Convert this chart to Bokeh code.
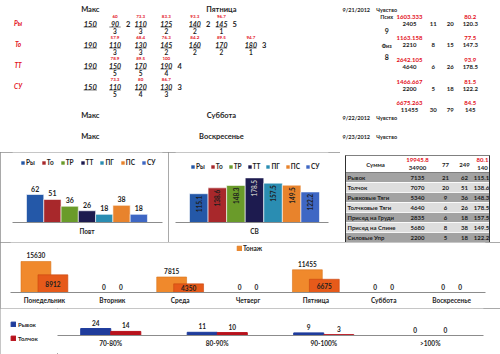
from bokeh.plotting import figure
from bokeh.layouts import column, row
from bokeh.models import ColumnDataSource, Range1d, FactorRange, FixedTicker, Legend, LegendItem
from bokeh.transform import dodge
from bokeh.core.properties import value
from bokeh.embed import file_html
from bokeh.resources import INLINE

# ---------------- data ----------------
plan_rows = ["Ры", "То", "ТТ", "СУ"]
plan_max = ["150", "190", "190", "150"]
plan_weights = [["90", "110", "125", "140", "145"],
                ["110", "130", "145", "160", "170", "180"],
                ["150", "170", "190"],
                ["110", "120", "130"]]
plan_reps = [["3", "3", "2", "2", "1"],
             ["3", "3", "2", "2", "2", "1"],
             ["5", "5", "4"],
             ["5", "4", "3"]]
plan_pct = [["60", "73.3", "83.3", "93.3", "96.7"],
            ["57.9", "68.4", "76.3", "84.2", "89.5", "94.7"],
            ["78.9", "89.5", "100"],
            ["73.3", "80", "86.7"]]
plan_sets = [["2", "", "", "2", "5"],
             ["", "", "", "", "", "3"],
             ["", "", "4"],
             ["", "", "3"]]

day_titles = ["Пятница", "Суббота", "Воскресенье"]
day_dates = ["9/21/2012", "9/22/2012", "9/23/2012"]
feel_labels = ["Псих", "Физ"]
feel_values = ["9", "8"]

sum_red = ["1603.333", "1163.158", "2642.105", "1466.667", "6675.263"]
sum_red_pct = ["80.2", "77.5", "93.9", "81.5", "84.5"]
sum_tonnage = ["2405", "2210", "4640", "2200", "11455"]
sum_sets = ["11", "8", "6", "5", "30"]
sum_reps = ["20", "15", "26", "18", "79"]
sum_avg = ["120.3", "147.3", "178.5", "122.2", "145"]

lifts = ["Ры", "То", "ТР", "ТТ", "ПГ", "ПС", "СУ"]
lift_reps = [62, 51, 36, 26, 18, 38, 18]
lift_avg = [115.1, 138.6, 148.3, 178.5, 157.5, 149.5, 122.2]

table_names = ["Рывок", "Толчок", "Рывковые Тяги", "Толчковые Тяги",
               "Присед на Груди", "Присед на Спине", "Силовые Упр"]
table_tonnage = ["7135", "7070", "5340", "4640", "2835", "5680", "2200"]
table_sets = ["21", "20", "9", "6", "6", "8", "5"]
table_reps = ["62", "51", "36", "26", "18", "38", "18"]
table_avg = ["115.1", "138.6", "148.3", "178.5", "157.5", "149.5", "122.2"]
table_head = ["Сумма", "19945.8", "34900", "77", "249", "80.1", "140"]

days = ["Понедельник", "Вторник", "Среда", "Четверг", "Пятница", "Суббота", "Воскресенье"]
tonnage = [15630, 0, 7815, 0, 11455, 0, 0]
tonnage_rel = [8912, 0, 4350, 0, 6675, 0, 0]
tonnage_name = "Тонаж"

zones = ["70-80%", "80-90%", "90-100%", ">100%"]
zone_series = ["Рывок", "Толчок"]
zone_snatch = [24, 11, 9, 0]
zone_cj = [14, 10, 3, 0]

# ---------------- style ----------------
FONT = "Lato"
DARK = "#1e1e1e"
RED = "#e3101b"
LIFT_COLORS = ["#2458a8", "#a8282b", "#6a9b2a", "#1d1b4f", "#2a8db2", "#e8832c", "#3e67c4"]
CV_LABEL_COLORS = [DARK, DARK, DARK, "#bfbfbf", DARK, DARK, DARK]
ZONE_COLORS = ["#1f3c9c", "#b8121c"]
BORDER = {"outline": "1px solid #8c8c8c", "outline-offset": "-1px"}


def txt(p, xs, ys, texts, size, color=DARK, style="bold", align="center",
        baseline="middle", angle=0.0, y_offset=0, x_offset=0):
    src = ColumnDataSource(dict(x=list(xs), y=list(ys), t=list(texts)))
    p.text(x="x", y="y", text="t", source=src, text_font=value(FONT),
           text_font_size=size, text_font_style=style, text_color=color,
           text_align=align, text_baseline=baseline, angle=angle,
           y_offset=y_offset, x_offset=x_offset)


def clean(p):
    p.xgrid.visible = False
    p.ygrid.visible = False
    p.outline_line_color = None
    p.background_fill_color = "white"
    p.border_fill_color = "white"


def style_xaxis(p, size="6.5px", standoff=4):
    ax = p.xaxis
    ax.axis_line_color = "#8c8c8c"
    ax.major_tick_line_color = None
    ax.minor_tick_line_color = None
    ax.major_tick_out = 0
    ax.major_tick_in = 0
    ax.major_label_standoff = standoff
    ax.major_label_text_font = FONT
    ax.major_label_text_font_style = "bold"
    ax.major_label_text_font_size = size
    ax.major_label_text_color = DARK


def style_legend(lg, orientation, loc, glyph=5, spacing=4, standoff=1, size="6.5px", margin=0):
    lg.orientation = orientation
    lg.location = loc
    lg.label_text_font = FONT
    lg.label_text_font_style = "bold"
    lg.label_text_font_size = size
    lg.label_text_color = DARK
    lg.label_text_baseline = "middle"
    lg.glyph_width = glyph
    lg.glyph_height = glyph
    lg.label_height = 8
    lg.label_width = 0
    lg.label_standoff = standoff
    lg.spacing = spacing
    lg.padding = 0
    lg.margin = margin
    lg.border_line_color = None
    lg.background_fill_alpha = 0


# ---------------- top text block ----------------
pA = figure(width=500, height=152, x_range=Range1d(0, 500), y_range=Range1d(152, 0),
            output_backend="svg", toolbar_location=None,
            x_axis_location=None, y_axis_location=None, min_border=0)
clean(pA)

title_y = [9, 115, 136]
txt(pA, [84] * 3, title_y, ["Макс"] * 3, "7.5px")
txt(pA, [222] * 3, title_y, day_titles, "7.5px")
txt(pA, [364] * 3, [9, 117, 136], day_dates, "5.5px")
txt(pA, [396] * 3, [9, 117, 136], ["Чувство"] * 3, "5.5px")
txt(pA, [396, 396], [16, 45], feel_labels, "5.5px")
txt(pA, [396, 396], [30, 56], feel_values, "7px")

row_y = [23, 44, 65, 86]
cell_x = [110, 137, 164, 194, 222, 253]
txt(pA, [8] * 4, row_y, plan_rows, "6.5px", color=RED, style="bold italic")
txt(pA, [84] * 4, row_y, plan_max, "7.5px", style="bold italic")
ux0, ux1, uy = [], [], []
for i in range(4):
    n = len(plan_weights[i])
    xs = cell_x[:n]
    yy = row_y[i]
    txt(pA, xs, [yy - 7.5] * n, plan_pct[i], "4.5px", color=RED)
    txt(pA, xs, [yy] * n, plan_weights[i], "7px", style="bold italic")
    txt(pA, xs, [yy + 7] * n, plan_reps[i], "6.5px")
    txt(pA, [x + 14 for x in xs], [yy] * n, plan_sets[i], "7.5px")
    ux0 += [x - 6 for x in xs] + [77]
    ux1 += [x + 6 for x in xs] + [91]
    uy += [yy + 3.5] * (n + 1)
pA.segment(x0=ux0, y0=uy, x1=ux1, y1=uy, line_color=DARK, line_width=0.6)

red_y = [16, 37, 59, 81, 102]
blk_y = [y + 7 for y in red_y]
txt(pA, [420] * 5, red_y, sum_red, "6px", color=RED)
txt(pA, [484] * 5, red_y, sum_red_pct, "6px", color=RED)
txt(pA, [420] * 5, blk_y, sum_tonnage, "6px")
txt(pA, [445] * 5, blk_y, sum_sets, "6px")
txt(pA, [463] * 5, blk_y, sum_reps, "6px")
txt(pA, [484] * 5, blk_y, sum_avg, "6px")

# ---------------- reps per lift ----------------
pB = figure(width=168, height=90, x_range=Range1d(-1.31, 7.37), y_range=Range1d(0, 155),
            output_backend="svg", toolbar_location=None, y_axis_location=None,
            min_border_left=12, min_border_right=6, min_border_top=0,
            min_border_bottom=20, styles=BORDER)
clean(pB)
srcB = ColumnDataSource(dict(x=list(range(len(lifts))), top=lift_reps, name=lifts,
                             color=LIFT_COLORS, lbl=[str(v) for v in lift_reps]))
pB.vbar(x="x", top="top", width=1.0, color="color", line_color="white",
        line_width=0.6, source=srcB, legend_field="name")
pB.text(x="x", y="top", text="lbl", source=srcB, text_font=value(FONT),
        text_font_size="7px", text_font_style="bold", text_color=DARK,
        text_align="center", text_baseline="bottom", y_offset=-3)
style_xaxis(pB, "6.5px", 5)
pB.xaxis.ticker = FixedTicker(ticks=[3])
pB.xaxis.major_label_overrides = {3: "Повт"}

# ---------------- average weight per lift ----------------
pC = figure(width=172, height=90, x_range=Range1d(-1.254, 6.985), y_range=Range1d(0, 280),
            output_backend="svg", toolbar_location=None, y_axis_location=None,
            min_border_left=7, min_border_right=12, min_border_top=0,
            min_border_bottom=20, styles=BORDER)
clean(pC)
srcC = ColumnDataSource(dict(x=list(range(len(lifts))), top=lift_avg, name=lifts,
                             color=LIFT_COLORS, lc=CV_LABEL_COLORS,
                             lbl=[str(v) for v in lift_avg]))
pC.vbar(x="x", top="top", width=1.0, color="color", line_color="white",
        line_width=0.6, source=srcC, legend_field="name")
pC.text(x="x", y="top", text="lbl", source=srcC, text_font=value(FONT),
        text_font_size="6.5px", text_font_style="bold", text_color="lc",
        text_align="right", text_baseline="middle", angle=1.5708, y_offset=2)
style_xaxis(pC, "6.5px", 5)
pC.xaxis.ticker = FixedTicker(ticks=[3])
pC.xaxis.major_label_overrides = {3: "СВ"}

style_legend(pB.legend[0], "horizontal", (8, 56), spacing=6)
style_legend(pC.legend[0], "horizontal", (15, 52), spacing=5)

# ---------------- summary table ----------------
pD = figure(width=160, height=90, x_range=Range1d(0, 160), y_range=Range1d(90, 0),
            output_backend="svg", toolbar_location=None,
            x_axis_location=None, y_axis_location=None, min_border=0)
clean(pD)
pD.frame_align = False
n_rows = len(table_names)
row_c = [25 + 10 * i for i in range(n_rows)]
pD.rect(x=[77] * n_rows, y=row_c, width=144, height=10,
        fill_color=["#a3a3a3" if i % 2 == 0 else "#dedede" for i in range(n_rows)],
        line_color="white", line_width=0.8)
pD.rect(x=[77], y=[11.5], width=144, height=17, fill_color="white",
        line_color="#606060", line_width=0.8)
pD.segment(x0=[5, 149], y0=[3, 3], x1=[5, 149], y1=[90, 90], line_color="#303030", line_width=1)
txt(pD, [35], [12], table_head[:1], "6px")
txt(pD, [77, 142], [7, 7], [table_head[1], table_head[5]], "6px", color=RED)
txt(pD, [77, 142], [15.5, 15.5], [table_head[2], table_head[6]], "6px")
txt(pD, [105, 124], [12, 12], table_head[3:5], "6px")
txt(pD, [7] * n_rows, row_c, table_names, "6px", align="left")
txt(pD, [77] * n_rows, row_c, table_tonnage, "6px")
txt(pD, [105] * n_rows, row_c, table_sets, "6px")
txt(pD, [124] * n_rows, row_c, table_reps, "6px")
txt(pD, [141] * n_rows, row_c, table_avg, "6px")

# ---------------- tonnage per day ----------------
pE = figure(width=500, height=66, x_range=FactorRange(*days, range_padding=0),
            y_range=Range1d(0, 25200), output_backend="svg", toolbar_location=None,
            y_axis_location=None, min_border_left=10, min_border_right=15,
            min_border_top=0, min_border_bottom=16, styles=BORDER)
clean(pE)
srcE = ColumnDataSource(dict(day=days, t1=tonnage, t2=tonnage_rel,
                             l1=[str(v) for v in tonnage]))
rE1 = pE.vbar(x=dodge("day", -0.125, range=pE.x_range), top="t1", width=0.44,
              fill_color="#f0892c", line_color="#d9731a", line_width=0.6, source=srcE)
pE.vbar(x=dodge("day", 0.125, range=pE.x_range), top="t2", width=0.44,
        fill_color="#e65a1a", line_color="#c9460e", line_width=0.6, source=srcE)
pE.text(x=dodge("day", -0.125, range=pE.x_range), y="t1", text="l1", source=srcE,
        text_font=value(FONT), text_font_size="6.5px", text_font_style="bold",
        text_color=DARK, text_align="center", text_baseline="bottom", y_offset=-3)
nz = [i for i, v in enumerate(tonnage_rel) if v]
zz = [i for i, v in enumerate(tonnage_rel) if not v]
srcE2 = ColumnDataSource(dict(day=[days[i] for i in nz],
                              y=[tonnage_rel[i] / 2 for i in nz],
                              t=[str(tonnage_rel[i]) for i in nz]))
srcE3 = ColumnDataSource(dict(day=[days[i] for i in zz],
                              y=[tonnage_rel[i] for i in zz],
                              t=[str(tonnage_rel[i]) for i in zz]))
pE.text(x=dodge("day", 0.125, range=pE.x_range), y="y", text="t", source=srcE2,
        text_font=value(FONT), text_font_size="6.5px", text_font_style="bold",
        text_color=DARK, text_align="center", text_baseline="middle")
pE.text(x=dodge("day", 0.125, range=pE.x_range), y="y", text="t", source=srcE3,
        text_font=value(FONT), text_font_size="6.5px", text_font_style="bold",
        text_color=DARK, text_align="center", text_baseline="bottom", y_offset=-3)
style_xaxis(pE, "6.5px", 4)
lgE = Legend(items=[LegendItem(label=tonnage_name, renderers=[rE1])])
pE.add_layout(lgE)
style_legend(lgE, "horizontal", (226, 40), glyph=6)

# ---------------- intensity zones ----------------
# legend panel: hidden one-point renderers only provide the legend swatches
pFL = figure(width=57, height=46, x_range=Range1d(0, 1), y_range=Range1d(0, 1),
             output_backend="svg", toolbar_location=None,
             x_axis_location=None, y_axis_location=None, min_border=0)
clean(pFL)
pFL.frame_align = False
legend_renderers = [pFL.vbar(x=[0.5], top=[0.5], width=0.1, color=c, visible=False)
                    for c in ZONE_COLORS]
lgF = Legend(items=[LegendItem(label=n, renderers=[r])
                    for n, r in zip(zone_series, legend_renderers)])
pFL.add_layout(lgF)
style_legend(lgF, "vertical", "center_left", glyph=6, spacing=6, standoff=2,
             size="6px", margin=10)

pF = figure(width=443, height=46, x_range=FactorRange(*zones, range_padding=0),
            y_range=Range1d(0, 93), output_backend="svg", toolbar_location=None,
            y_axis_location=None, min_border_left=0, min_border_right=17,
            min_border_top=0, min_border_bottom=19)
clean(pF)
pF.frame_align = False
srcF = ColumnDataSource(dict(z=zones, a=zone_snatch, b=zone_cj,
                             la=[str(v) for v in zone_snatch],
                             lb=[str(v) for v in zone_cj]))
pF.vbar(x=dodge("z", -0.141, range=pF.x_range), top="a", width=0.282,
        color=ZONE_COLORS[0], source=srcF)
pF.vbar(x=dodge("z", 0.141, range=pF.x_range), top="b", width=0.282,
        color=ZONE_COLORS[1], source=srcF)
for fld, yf, off in (("la", "a", -0.141), ("lb", "b", 0.141)):
    pF.text(x=dodge("z", off, range=pF.x_range), y=yf,
            text=fld, source=srcF, text_font=value(FONT), text_font_size="6.5px",
            text_font_style="bold", text_color=DARK, text_align="center",
            text_baseline="bottom", y_offset=-3)
style_xaxis(pF, "6.5px", 4)

bottom = row(pFL, pF, styles=BORDER)
layout = column(pA, row(pB, pC, pD), pE, bottom)
open("out.html", "w").write(file_html(layout, INLINE))
